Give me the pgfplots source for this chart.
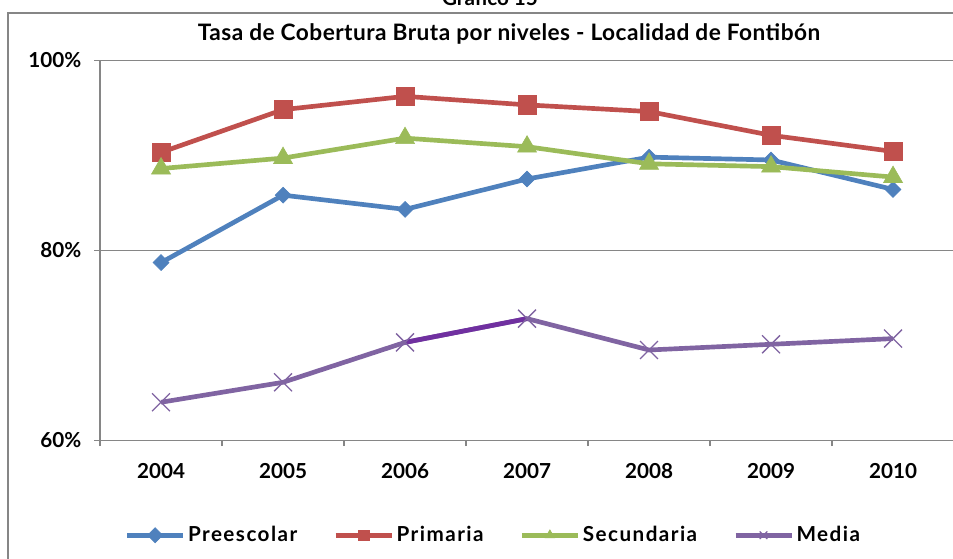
\documentclass[border=0pt]{standalone}
\usepackage{pgfplots}
\pgfplotsset{compat=1.18}
\usepackage{fontspec}
\setmainfont{Lato}

\definecolor{cBlue}{HTML}{4F81BD}
\definecolor{cRed}{HTML}{C0504D}
\definecolor{cGreen}{HTML}{9BBB59}
\definecolor{cPurple}{HTML}{8064A2}
\definecolor{cDark}{HTML}{7030A0}
\definecolor{cAxis}{HTML}{868686}

\newcommand{\lbl}{\fontsize{15.5}{18}\selectfont\bfseries}
\newcommand{\leg}{\fontsize{15.5}{18}\selectfont\bfseries\addfontfeatures{LetterSpace=7}}

\begin{document}
\begin{tikzpicture}[x=0.75pt,y=0.75pt]
\useasboundingbox (0,0) rectangle (953,559);
\clip (0,0) rectangle (953,559);
% chart frame (cut off on the right and bottom)
\draw[cAxis, line width=1.2pt] (8,-20) -- (8,546) -- (1000,546);
\node[font=\lbl, anchor=base] at (490,553) {Gráfico 15};
\node[font=\fontsize{17}{18}\selectfont\bfseries\addfontfeatures{LetterSpace=2}] at (509,525) {Tasa de Cobertura Bruta por niveles - Localidad de Fontibón};

\begin{axis}[
    at={(82,125)}, anchor=south west,
    scale only axis,
    width=640.5pt, height=285pt,
    xmin=-0.5, xmax=6.5,
    ymin=60, ymax=100,
    axis lines*=left,
    axis line style={cAxis, line width=0.9pt, -},
    xtick={-0.5,0.5,...,6.5},
    xticklabels={2004,2005,2006,2007,2008,2009,2010},
    x tick label as interval,
    ytick={60,80,100},
    yticklabel={\pgfmathprintnumber{\tick}\%},
    /pgf/number format/assume math mode=true,
    ymajorgrids,
    grid style={cAxis, line width=0.9pt},
    tick align=outside,
    major tick length=4.5pt,
    tick style={cAxis, line width=0.9pt},
    ticklabel style={font=\lbl},
    xticklabel style={yshift=-9pt},
    yticklabel style={xshift=-6pt},
    legend style={at={(0.461,-0.25)}, anchor=center, draw=none, fill=none,
        legend columns=4, font=\leg,
        /tikz/every even column/.append style={column sep=25pt}},
    legend cell align=left,
    legend image code/.code={
        \draw[mark repeat=2, mark phase=2, mark size=4pt]
            plot coordinates {(0pt,0pt) (21pt,0pt) (42pt,0pt)};},
]

\addplot[cBlue, line width=3.5pt, mark=square*, mark size=4.2pt,
    mark options={rotate=45, solid, line width=0.5pt}] coordinates {
    (0,78.7) (1,85.8) (2,84.3) (3,87.5) (4,89.8) (5,89.5) (6,86.4)
};
\addlegendentry{Preescolar}

\addplot[cRed, line width=3.5pt, mark=square*, mark size=6.8pt,
    mark options={solid, line width=0.5pt}] coordinates {
    (0,90.3) (1,94.8) (2,96.2) (3,95.3) (4,94.6) (5,92.1) (6,90.4)
};
\addlegendentry{Primaria}

\addplot[cGreen, line width=3.5pt, mark=triangle*, mark size=8.2pt,
    mark options={solid, line width=0.5pt}] coordinates {
    (0,88.6) (1,89.7) (2,91.8) (3,90.9) (4,89.1) (5,88.8) (6,87.7)
};
\addlegendentry{Secundaria}

\addplot[cPurple, line width=3.5pt, mark=x, mark size=9.5pt,
    mark options={solid, line width=1pt}] coordinates {
    (0,64.0) (1,66.1) (2,70.3) (3,72.8) (4,69.5) (5,70.1) (6,70.7)
};
\addlegendentry{Media}

% highlighted segment 2006-2007
\addplot[cDark, line width=3.5pt, forget plot] coordinates {
    (2,70.3) (3,72.8)
};

\end{axis}
\end{tikzpicture}
\end{document}
